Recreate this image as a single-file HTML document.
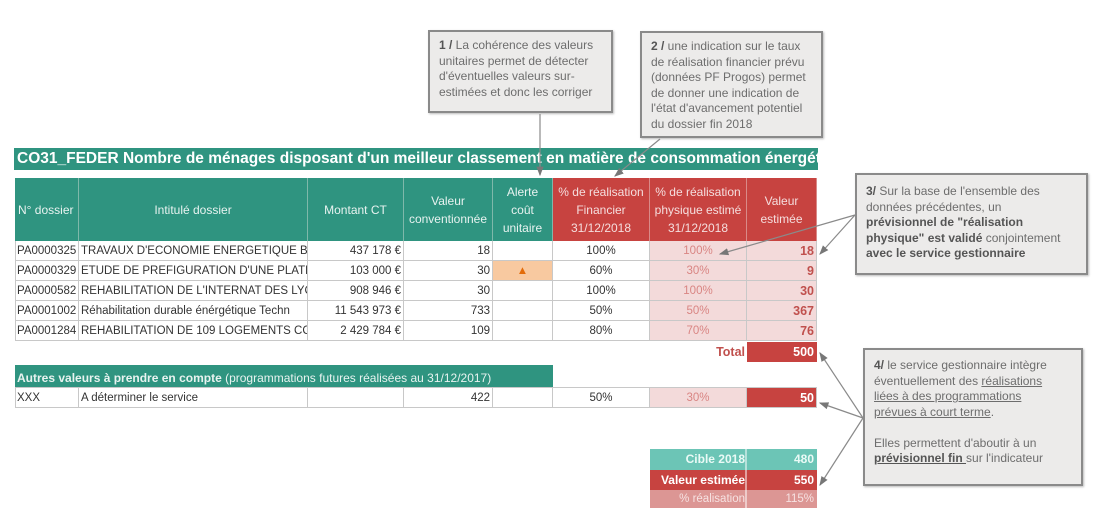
<!DOCTYPE html>
<html><head><meta charset="utf-8"><style>
body{margin:0;width:1100px;height:513px;background:#fff;position:relative;overflow:hidden;font-family:"Liberation Sans",sans-serif;}
div{position:absolute;box-sizing:border-box;}
.c{font-size:11.5px;color:#333;white-space:nowrap;overflow:hidden;line-height:20px;border-right:1px solid #c8c8c8;border-bottom:1px solid #c8c8c8;padding:0 2px;}
.r{text-align:right;}.m{text-align:center;}
.h{color:#e8f3f0;font-size:12px;text-align:center;display:flex;align-items:center;justify-content:center;line-height:18px;border-right:1px solid #7fb8aa;}
.t{background:#2f9480;}.rd{background:#c74340;border-right:1px solid #d98a88;color:#f5dede;}
.pk{background:#f3dada;color:#d98583;}
.rv{color:#c0504d;font-weight:bold;font-size:12.5px;}
.box{background:#ecebea;border:2px solid #8a8a8a;color:#6d6d6d;font-size:12px;line-height:15.5px;padding:6px 9px;box-shadow:1px 1px 2px #bbb;white-space:nowrap;}
.box b{color:#555;}
</style></head><body>
<div style="left:14px;top:148px;width:804px;height:22px;background:#2f9480;color:#fff;font-weight:bold;font-size:15.5px;line-height:22px;padding-left:3px;white-space:nowrap;overflow:hidden;">CO31_FEDER Nombre de ménages disposant d'un meilleur classement en matière de consommation énergétique</div>
<div class="h t" style="left:15px;top:178px;width:64px;height:63px;justify-content:flex-start;padding-left:3px">N° dossier</div>
<div class="h t" style="left:79px;top:178px;width:229px;height:63px">Intitulé dossier</div>
<div class="h t" style="left:308px;top:178px;width:96px;height:63px">Montant CT</div>
<div class="h t" style="left:404px;top:178px;width:89px;height:63px">Valeur<br>conventionnée</div>
<div class="h t" style="left:493px;top:178px;width:60px;height:63px">Alerte<br>coût<br>unitaire</div>
<div class="h rd" style="left:553px;top:178px;width:97px;height:63px">% de réalisation<br>Financier<br>31/12/2018</div>
<div class="h rd" style="left:650px;top:178px;width:97px;height:63px">% de réalisation<br>physique estimé<br>31/12/2018</div>
<div class="h rd" style="left:747px;top:178px;width:70px;height:63px">Valeur<br>estimée</div>
<div style="left:15px;top:241px;width:802px;height:100px;border-left:1px solid #c8c8c8;"></div>
<div class="c" style="left:15px;top:241px;width:64px;height:20px">PA0000325</div><div class="c" style="left:79px;top:241px;width:229px;height:20px">TRAVAUX D'ECONOMIE ENERGETIQUE B</div><div class="c r" style="left:308px;top:241px;width:96px;height:20px">437 178 €</div><div class="c r" style="left:404px;top:241px;width:89px;height:20px">18</div><div class="c" style="left:493px;top:241px;width:60px;height:20px"></div><div class="c m" style="left:553px;top:241px;width:97px;height:20px">100%</div><div class="c m pk" style="left:650px;top:241px;width:97px;height:20px">100%</div><div class="c r pk rv" style="left:747px;top:241px;width:70px;height:20px">18</div>
<div class="c" style="left:15px;top:261px;width:64px;height:20px">PA0000329</div><div class="c" style="left:79px;top:261px;width:229px;height:20px">ETUDE DE PREFIGURATION D'UNE PLATE</div><div class="c r" style="left:308px;top:261px;width:96px;height:20px">103 000 €</div><div class="c r" style="left:404px;top:261px;width:89px;height:20px">30</div><div class="c m" style="left:493px;top:261px;width:60px;height:20px;background:#f8c9a0;color:#e36c0a">▲</div><div class="c m" style="left:553px;top:261px;width:97px;height:20px">60%</div><div class="c m pk" style="left:650px;top:261px;width:97px;height:20px">30%</div><div class="c r pk rv" style="left:747px;top:261px;width:70px;height:20px">9</div>
<div class="c" style="left:15px;top:281px;width:64px;height:20px">PA0000582</div><div class="c" style="left:79px;top:281px;width:229px;height:20px">REHABILITATION DE L'INTERNAT DES LYC</div><div class="c r" style="left:308px;top:281px;width:96px;height:20px">908 946 €</div><div class="c r" style="left:404px;top:281px;width:89px;height:20px">30</div><div class="c" style="left:493px;top:281px;width:60px;height:20px"></div><div class="c m" style="left:553px;top:281px;width:97px;height:20px">100%</div><div class="c m pk" style="left:650px;top:281px;width:97px;height:20px">100%</div><div class="c r pk rv" style="left:747px;top:281px;width:70px;height:20px">30</div>
<div class="c" style="left:15px;top:301px;width:64px;height:20px">PA0001002</div><div class="c" style="left:79px;top:301px;width:229px;height:20px">Réhabilitation durable énérgétique Techn</div><div class="c r" style="left:308px;top:301px;width:96px;height:20px">11 543 973 €</div><div class="c r" style="left:404px;top:301px;width:89px;height:20px">733</div><div class="c" style="left:493px;top:301px;width:60px;height:20px"></div><div class="c m" style="left:553px;top:301px;width:97px;height:20px">50%</div><div class="c m pk" style="left:650px;top:301px;width:97px;height:20px">50%</div><div class="c r pk rv" style="left:747px;top:301px;width:70px;height:20px">367</div>
<div class="c" style="left:15px;top:321px;width:64px;height:20px">PA0001284</div><div class="c" style="left:79px;top:321px;width:229px;height:20px">REHABILITATION DE 109 LOGEMENTS CC</div><div class="c r" style="left:308px;top:321px;width:96px;height:20px">2 429 784 €</div><div class="c r" style="left:404px;top:321px;width:89px;height:20px">109</div><div class="c" style="left:493px;top:321px;width:60px;height:20px"></div><div class="c m" style="left:553px;top:321px;width:97px;height:20px">80%</div><div class="c m pk" style="left:650px;top:321px;width:97px;height:20px">70%</div><div class="c r pk rv" style="left:747px;top:321px;width:70px;height:20px">76</div>
<div style="left:650px;top:342px;width:95px;height:20px;text-align:right;color:#c0504d;font-weight:bold;font-size:12.5px;line-height:20px;">Total</div>
<div style="left:747px;top:342px;width:70px;height:20px;background:#c74340;color:#fff;font-weight:bold;font-size:12.5px;line-height:20px;text-align:right;padding-right:3px;">500</div>
<div style="left:15px;top:365px;width:538px;height:22px;background:#2f9480;color:#e8f3f0;font-size:12px;line-height:26px;padding-left:2px;white-space:nowrap;"><b>Autres valeurs à prendre en compte</b> (programmations futures réalisées au 31/12/2017)</div>
<div style="left:15px;top:387px;width:802px;height:21px;border-left:1px solid #c8c8c8;border-top:1px solid #c8c8c8;"></div>
<div class="c" style="left:15px;top:388px;width:64px;height:20px">XXX</div><div class="c" style="left:79px;top:388px;width:229px;height:20px">A déterminer le service</div><div class="c" style="left:308px;top:388px;width:96px;height:20px"></div><div class="c r" style="left:404px;top:388px;width:89px;height:20px">422</div><div class="c" style="left:493px;top:388px;width:60px;height:20px"></div><div class="c m" style="left:553px;top:388px;width:97px;height:20px">50%</div><div class="c m pk" style="left:650px;top:388px;width:97px;height:20px">30%</div><div class="c r rv" style="left:747px;top:388px;width:70px;height:20px;background:#c74340;color:#fff">50</div>
<div style="left:650px;top:449px;width:167px;height:21px;background:#6cc5b6;color:#eafaf6;font-size:12px;line-height:21px;font-weight:bold"><span style="position:absolute;right:72px">Cible 2018</span><span style="position:absolute;right:3px">480</span></div>
<div style="left:650px;top:470px;width:167px;height:20px;background:#c74340;color:#fff;font-size:12px;line-height:20px;font-weight:bold"><span style="position:absolute;right:72px">Valeur estimée</span><span style="position:absolute;right:3px">550</span></div>
<div style="left:650px;top:490px;width:167px;height:18px;background:#dc9694;color:#f6e2e2;font-size:11.5px;line-height:18px"><span style="position:absolute;right:72px">% réalisation</span><span style="position:absolute;right:3px">115%</span></div>
<div style="left:745px;top:449px;width:2px;height:59px;background:#fff;opacity:.5"></div>
<div class="box" style="left:428px;top:30px;width:185px;height:83px"><b>1 /</b> La cohérence des valeurs<br>unitaires permet de détecter<br>d'éventuelles valeurs sur-<br>estimées et donc les corriger</div>
<div class="box" style="left:640px;top:31px;width:183px;height:107px"><b>2 /</b> une indication sur le taux<br>de réalisation financier prévu<br>(données PF Progos) permet<br>de donner une indication de<br>l'état d'avancement potentiel<br>du dossier fin 2018</div>
<div class="box" style="left:855px;top:173px;width:233px;height:102px;padding-top:9px"><b>3/</b> Sur la base de l'ensemble des<br>données précédentes, un<br><b>prévisionnel de "réalisation<br>physique" est validé</b> conjointement<br><b>avec le service gestionnaire</b></div>
<div class="box" style="left:863px;top:348px;width:220px;height:138px;padding-top:8px"><b>4/</b> le service gestionnaire intègre<br>éventuellement des <u>réalisations<br>liées à des programmations<br>prévues à court terme</u>.<br><br>Elles permettent d'aboutir à un<br><b><u>prévisionnel fin </u></b>sur l'indicateur</div>
<svg style="position:absolute;left:0;top:0" width="1100" height="513">
<defs><marker id="a" markerWidth="8" markerHeight="8" refX="7" refY="4" orient="auto"><path d="M0,1 L8,4 L0,7z" fill="#777"/></marker></defs>
<g stroke="#8a8a8a" stroke-width="1.2" fill="none" marker-end="url(#a)">
<line x1="540" y1="114" x2="540" y2="175"/>
<line x1="660" y1="139" x2="615" y2="176"/>
<line x1="855" y1="215" x2="720" y2="254"/>
<line x1="855" y1="215" x2="820" y2="254"/>
<line x1="863" y1="418" x2="820" y2="353"/>
<line x1="863" y1="418" x2="820" y2="403"/>
<line x1="863" y1="418" x2="820" y2="485"/>
</g></svg>
</body></html>
